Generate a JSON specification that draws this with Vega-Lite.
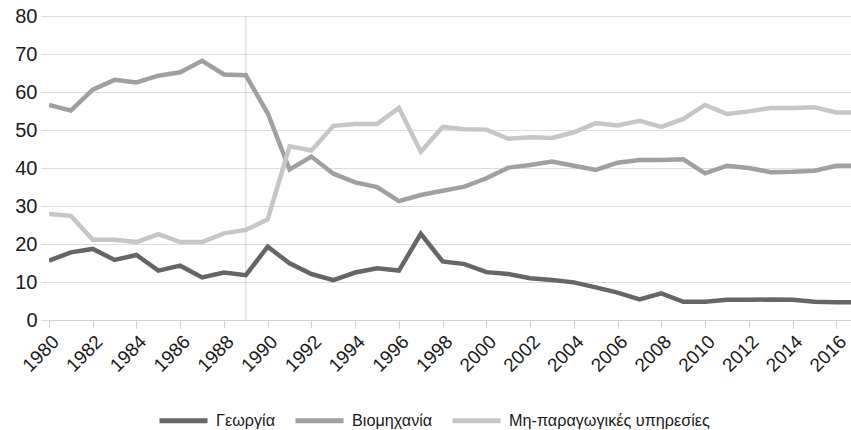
{
  "$schema": "https://vega.github.io/schema/vega-lite/v6.json",
  "width": 802,
  "height": 304,
  "autosize": "none",
  "padding": {"left": 49, "top": 16, "right": 0, "bottom": 110},
  "background": "white",
  "config": {
    "view": {"stroke": null},
    "font": "Liberation Sans",
    "axis": {"labelFont": "Liberation Sans", "labelColor": "#1a1a1a"}
  },
  "datasets": {
    "series": [
      {"year": 1980, "sector": "Γεωργία", "value": 15.6},
      {"year": 1981, "sector": "Γεωργία", "value": 17.8},
      {"year": 1982, "sector": "Γεωργία", "value": 18.7},
      {"year": 1983, "sector": "Γεωργία", "value": 15.8},
      {"year": 1984, "sector": "Γεωργία", "value": 17.1},
      {"year": 1985, "sector": "Γεωργία", "value": 13.0},
      {"year": 1986, "sector": "Γεωργία", "value": 14.3},
      {"year": 1987, "sector": "Γεωργία", "value": 11.2},
      {"year": 1988, "sector": "Γεωργία", "value": 12.5},
      {"year": 1989, "sector": "Γεωργία", "value": 11.8},
      {"year": 1990, "sector": "Γεωργία", "value": 19.3},
      {"year": 1991, "sector": "Γεωργία", "value": 14.9},
      {"year": 1992, "sector": "Γεωργία", "value": 12.1},
      {"year": 1993, "sector": "Γεωργία", "value": 10.5},
      {"year": 1994, "sector": "Γεωργία", "value": 12.5},
      {"year": 1995, "sector": "Γεωργία", "value": 13.6},
      {"year": 1996, "sector": "Γεωργία", "value": 13.0},
      {"year": 1997, "sector": "Γεωργία", "value": 22.7},
      {"year": 1998, "sector": "Γεωργία", "value": 15.4},
      {"year": 1999, "sector": "Γεωργία", "value": 14.7},
      {"year": 2000, "sector": "Γεωργία", "value": 12.6},
      {"year": 2001, "sector": "Γεωργία", "value": 12.1},
      {"year": 2002, "sector": "Γεωργία", "value": 11.0},
      {"year": 2003, "sector": "Γεωργία", "value": 10.5},
      {"year": 2004, "sector": "Γεωργία", "value": 9.9},
      {"year": 2005, "sector": "Γεωργία", "value": 8.6},
      {"year": 2006, "sector": "Γεωργία", "value": 7.2},
      {"year": 2007, "sector": "Γεωργία", "value": 5.4},
      {"year": 2008, "sector": "Γεωργία", "value": 7.0},
      {"year": 2009, "sector": "Γεωργία", "value": 4.8},
      {"year": 2010, "sector": "Γεωργία", "value": 4.8},
      {"year": 2011, "sector": "Γεωργία", "value": 5.3},
      {"year": 2012, "sector": "Γεωργία", "value": 5.3},
      {"year": 2013, "sector": "Γεωργία", "value": 5.4},
      {"year": 2014, "sector": "Γεωργία", "value": 5.3},
      {"year": 2015, "sector": "Γεωργία", "value": 4.8},
      {"year": 2016, "sector": "Γεωργία", "value": 4.7},
      {"year": 2017, "sector": "Γεωργία", "value": 4.7},
      {"year": 1980, "sector": "Βιομηχανία", "value": 56.6},
      {"year": 1981, "sector": "Βιομηχανία", "value": 55.1},
      {"year": 1982, "sector": "Βιομηχανία", "value": 60.6},
      {"year": 1983, "sector": "Βιομηχανία", "value": 63.2},
      {"year": 1984, "sector": "Βιομηχανία", "value": 62.5},
      {"year": 1985, "sector": "Βιομηχανία", "value": 64.3},
      {"year": 1986, "sector": "Βιομηχανία", "value": 65.2},
      {"year": 1987, "sector": "Βιομηχανία", "value": 68.2},
      {"year": 1988, "sector": "Βιομηχανία", "value": 64.6},
      {"year": 1989, "sector": "Βιομηχανία", "value": 64.4},
      {"year": 1990, "sector": "Βιομηχανία", "value": 54.4},
      {"year": 1991, "sector": "Βιομηχανία", "value": 39.6},
      {"year": 1992, "sector": "Βιομηχανία", "value": 43.0},
      {"year": 1993, "sector": "Βιομηχανία", "value": 38.5},
      {"year": 1994, "sector": "Βιομηχανία", "value": 36.2},
      {"year": 1995, "sector": "Βιομηχανία", "value": 35.0},
      {"year": 1996, "sector": "Βιομηχανία", "value": 31.3},
      {"year": 1997, "sector": "Βιομηχανία", "value": 32.9},
      {"year": 1998, "sector": "Βιομηχανία", "value": 34.0},
      {"year": 1999, "sector": "Βιομηχανία", "value": 35.1},
      {"year": 2000, "sector": "Βιομηχανία", "value": 37.3},
      {"year": 2001, "sector": "Βιομηχανία", "value": 40.1},
      {"year": 2002, "sector": "Βιομηχανία", "value": 40.8},
      {"year": 2003, "sector": "Βιομηχανία", "value": 41.7},
      {"year": 2004, "sector": "Βιομηχανία", "value": 40.6},
      {"year": 2005, "sector": "Βιομηχανία", "value": 39.5},
      {"year": 2006, "sector": "Βιομηχανία", "value": 41.4},
      {"year": 2007, "sector": "Βιομηχανία", "value": 42.1},
      {"year": 2008, "sector": "Βιομηχανία", "value": 42.1},
      {"year": 2009, "sector": "Βιομηχανία", "value": 42.3},
      {"year": 2010, "sector": "Βιομηχανία", "value": 38.6},
      {"year": 2011, "sector": "Βιομηχανία", "value": 40.6},
      {"year": 2012, "sector": "Βιομηχανία", "value": 40.0},
      {"year": 2013, "sector": "Βιομηχανία", "value": 38.9},
      {"year": 2014, "sector": "Βιομηχανία", "value": 39.0},
      {"year": 2015, "sector": "Βιομηχανία", "value": 39.3},
      {"year": 2016, "sector": "Βιομηχανία", "value": 40.6},
      {"year": 2017, "sector": "Βιομηχανία", "value": 40.6},
      {"year": 1980, "sector": "Μη-παραγωγικές υπηρεσίες", "value": 27.9},
      {"year": 1981, "sector": "Μη-παραγωγικές υπηρεσίες", "value": 27.4},
      {"year": 1982, "sector": "Μη-παραγωγικές υπηρεσίες", "value": 21.1},
      {"year": 1983, "sector": "Μη-παραγωγικές υπηρεσίες", "value": 21.1},
      {"year": 1984, "sector": "Μη-παραγωγικές υπηρεσίες", "value": 20.5},
      {"year": 1985, "sector": "Μη-παραγωγικές υπηρεσίες", "value": 22.6},
      {"year": 1986, "sector": "Μη-παραγωγικές υπηρεσίες", "value": 20.5},
      {"year": 1987, "sector": "Μη-παραγωγικές υπηρεσίες", "value": 20.5},
      {"year": 1988, "sector": "Μη-παραγωγικές υπηρεσίες", "value": 22.8},
      {"year": 1989, "sector": "Μη-παραγωγικές υπηρεσίες", "value": 23.7},
      {"year": 1990, "sector": "Μη-παραγωγικές υπηρεσίες", "value": 26.5},
      {"year": 1991, "sector": "Μη-παραγωγικές υπηρεσίες", "value": 45.7},
      {"year": 1992, "sector": "Μη-παραγωγικές υπηρεσίες", "value": 44.6},
      {"year": 1993, "sector": "Μη-παραγωγικές υπηρεσίες", "value": 51.1},
      {"year": 1994, "sector": "Μη-παραγωγικές υπηρεσίες", "value": 51.6},
      {"year": 1995, "sector": "Μη-παραγωγικές υπηρεσίες", "value": 51.6},
      {"year": 1996, "sector": "Μη-παραγωγικές υπηρεσίες", "value": 55.8},
      {"year": 1997, "sector": "Μη-παραγωγικές υπηρεσίες", "value": 44.3},
      {"year": 1998, "sector": "Μη-παραγωγικές υπηρεσίες", "value": 50.8},
      {"year": 1999, "sector": "Μη-παραγωγικές υπηρεσίες", "value": 50.2},
      {"year": 2000, "sector": "Μη-παραγωγικές υπηρεσίες", "value": 50.1},
      {"year": 2001, "sector": "Μη-παραγωγικές υπηρεσίες", "value": 47.7},
      {"year": 2002, "sector": "Μη-παραγωγικές υπηρεσίες", "value": 48.1},
      {"year": 2003, "sector": "Μη-παραγωγικές υπηρεσίες", "value": 47.9},
      {"year": 2004, "sector": "Μη-παραγωγικές υπηρεσίες", "value": 49.4},
      {"year": 2005, "sector": "Μη-παραγωγικές υπηρεσίες", "value": 51.8},
      {"year": 2006, "sector": "Μη-παραγωγικές υπηρεσίες", "value": 51.2},
      {"year": 2007, "sector": "Μη-παραγωγικές υπηρεσίες", "value": 52.4},
      {"year": 2008, "sector": "Μη-παραγωγικές υπηρεσίες", "value": 50.8},
      {"year": 2009, "sector": "Μη-παραγωγικές υπηρεσίες", "value": 52.9},
      {"year": 2010, "sector": "Μη-παραγωγικές υπηρεσίες", "value": 56.6},
      {"year": 2011, "sector": "Μη-παραγωγικές υπηρεσίες", "value": 54.2},
      {"year": 2012, "sector": "Μη-παραγωγικές υπηρεσίες", "value": 54.9},
      {"year": 2013, "sector": "Μη-παραγωγικές υπηρεσίες", "value": 55.8},
      {"year": 2014, "sector": "Μη-παραγωγικές υπηρεσίες", "value": 55.8},
      {"year": 2015, "sector": "Μη-παραγωγικές υπηρεσίες", "value": 56.0},
      {"year": 2016, "sector": "Μη-παραγωγικές υπηρεσίες", "value": 54.6},
      {"year": 2017, "sector": "Μη-παραγωγικές υπηρεσίες", "value": 54.6}
    ],
    "marker": [{"year": 1989}]
  },
  "layer": [
    {
      "data": {"name": "marker"},
      "mark": {"type": "rule", "color": "#d0d0d0", "strokeWidth": 1},
      "encoding": {
        "x": {"field": "year", "type": "quantitative", "scale": {"domain": [1980, 2016.67], "nice": false, "zero": false}}
      }
    },
    {
      "data": {"name": "series"},
      "mark": {"type": "line", "strokeWidth": 4.5, "clip": true, "strokeJoin": "miter"},
      "encoding": {
        "x": {
          "field": "year", "type": "quantitative",
          "scale": {"domain": [1980, 2016.67], "nice": false, "zero": false},
          "axis": {
            "title": null,
            "values": [1980,1981,1982,1983,1984,1985,1986,1987,1988,1989,1990,1991,1992,1993,1994,1995,1996,1997,1998,1999,2000,2001,2002,2003,2004,2005,2006,2007,2008,2009,2010,2011,2012,2013,2014,2015,2016],
            "labelExpr": "datum.value % 2 == 0 ? datum.value : ''",
            "format": "d",
            "labelAngle": -45,
            "labelAlign": "right",
            "labelBaseline": "top",
            "labelFontSize": 19,
            "labelPadding": 4,
            "labelOverlap": false,
            "labelBound": false,
            "labelFlush": false,
            "grid": false,
            "domainColor": "#d0d0d0",
            "tickColor": "#d0d0d0",
            "tickSize": 8,
            "domainWidth": 1
          }
        },
        "y": {
          "field": "value", "type": "quantitative",
          "scale": {"domain": [0, 80], "nice": false},
          "axis": {
            "title": null,
            "values": [0,10,20,30,40,50,60,70,80],
            "labelFontSize": 20,
            "labelPadding": 4,
            "tickSize": 8,
            "tickColor": "#d9d9d9",
            "gridColor": "#dddddd",
            "domain": false,
            "labelFlush": false,
            "labelBound": false
          }
        },
        "color": {
          "field": "sector", "type": "nominal",
          "scale": {
            "domain": ["Γεωργία", "Βιομηχανία", "Μη-παραγωγικές υπηρεσίες"],
            "range": ["#666666", "#a0a0a0", "#c6c6c6"]
          },
          "legend": {
            "title": null,
            "orient": "none",
            "direction": "horizontal",
            "legendX": 108,
            "legendY": 378,
            "symbolType": "stroke",
            "symbolStrokeWidth": 5,
            "symbolSize": 2304,
            "labelFontSize": 16.2,
            "labelLimit": 0,
            "labelFont": "Liberation Sans",
            "labelColor": "#1a1a1a",
            "columnPadding": 9,
            "labelOffset": 6
          }
        }
      }
    }
  ]
}
